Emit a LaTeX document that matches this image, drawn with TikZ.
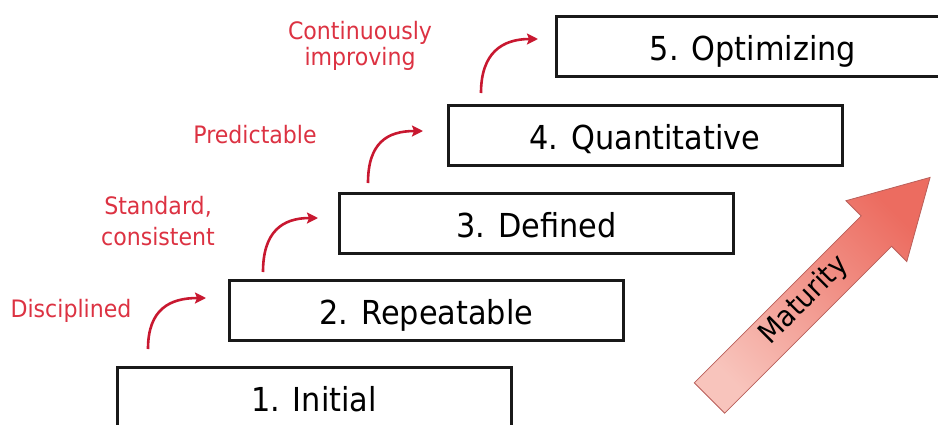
\documentclass[tikz,border=0pt]{standalone}
\usepackage{fontspec}
\setmainfont{DejaVu Sans}[FakeStretch=0.92]
\usetikzlibrary{calc,arrows.meta}
\definecolor{lblred}{RGB}{220,50,66}
\definecolor{curvred}{RGB}{200,24,48}
\definecolor{matlight}{RGB}{248,196,188}
\definecolor{matdark}{RGB}{236,108,96}
\definecolor{matedge}{RGB}{185,95,90}
\begin{document}
\begin{tikzpicture}[x=1pt,y=-1pt,
  level/.style={draw=black!90, line width=3pt, fill=white, minimum width=394pt,
    minimum height=60pt, anchor=north west, inner sep=0pt,
    text height=30pt, text depth=2pt, font=\fontsize{33}{38}\selectfont},
  lbl/.style={text=lblred, font=\fontsize{24}{27}\selectfont, align=center, inner sep=0pt},
  curvy/.style={draw=curvred, line width=2.6pt, -{Stealth[length=11pt,width=11pt,inset=2pt]}},
]
\useasboundingbox (0,0) rectangle (938,424);

% maturity arrow
\path[draw=matedge, line width=0.8pt, bottom color=matlight, top color=matdark, shading angle=-45]
  (694.3,382.8) -- (861.2,215.9) -- (846,200.7) -- (930.1,177.4) -- (906.8,261.5)
  -- (891.6,246.3) -- (724.7,413.2) -- cycle;
\node[rotate=45, anchor=base, font=\fontsize{29}{34}\selectfont, inner sep=0pt] (mat) at (810,306) {Maturity};

% levels
\node[level] (b1) at (115.5,366) {1. Initial};
\node[level] (b2) at (228,278.5) {2. Repeatable};
\node[level] (b3) at (338,192) {3. Defined};
\node[level] (b4) at (446.5,103.5) {4. Quantitative};
\node[level] (b5) at (554.5,15) {5. Optimizing};

% labels
\node[lbl, anchor=base] (l1) at (71,317) {Disciplined};
\node[lbl, font=\fontsize{24}{31}\selectfont] (l2) at (158,221) {Standard,\\consistent};
\node[lbl, anchor=base] (l3) at (255,143) {Predictable};
\node[lbl, font=\fontsize{24}{26}\selectfont] (l4) at (360,46) {Continuously\\improving};

% curved arrows
\coordinate (s1) at ($(b1.north west)+(32.5,-17)$);
\coordinate (t1) at ($(b2.north west)+(-22,19.5)$);
\coordinate (s2) at ($(b2.north west)+(35,-6.5)$);
\coordinate (t2) at ($(b3.north west)+(-20,26)$);
\coordinate (s3) at ($(b3.north west)+(30,-9)$);
\coordinate (t3) at ($(b4.north west)+(-23.5,27.5)$);
\coordinate (s4) at ($(b4.north west)+(34.5,-10.5)$);
\coordinate (t4) at ($(b5.north west)+(-16.5,24)$);
\draw[curvy] (s1) .. controls +(0,-40) and +(-36,0) .. (t1);
\draw[curvy] (s2) .. controls +(0,-40) and +(-36,0) .. (t2);
\draw[curvy] (s3) .. controls +(0,-40) and +(-36,0) .. (t3);
\draw[curvy] (s4) .. controls +(0,-40) and +(-36,0) .. (t4);
\end{tikzpicture}
\end{document}
